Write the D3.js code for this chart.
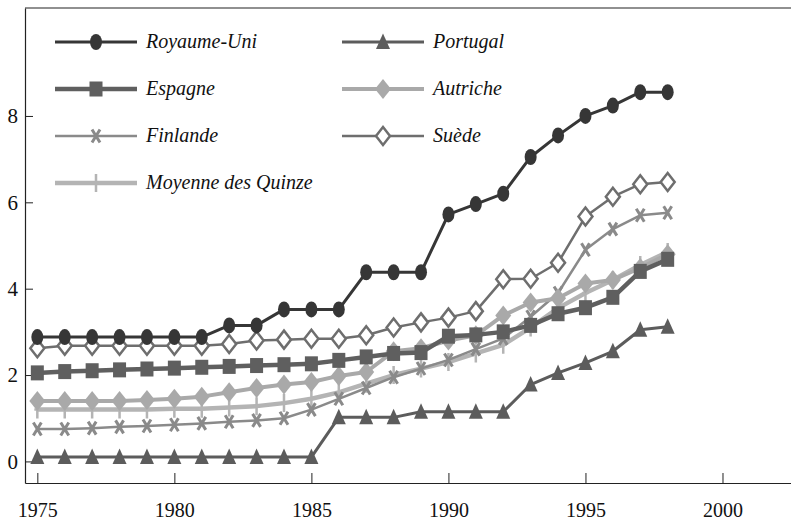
<!DOCTYPE html>
<html>
<head>
<meta charset="utf-8">
<script src="https://cdn.jsdelivr.net/npm/d3@7"></script>
<style>
  body { margin: 0; background: #fff; }
  svg { display: block; }
  svg text { font-family: 'Liberation Serif', 'Times New Roman', Times, serif; }
</style>
</head>
<body>
<div id="chart"></div>
<script>
// years on the x axis
const years = d3.range(1975, 1999)

// series values
const royaumeUni = [2.88, 2.88, 2.88, 2.88, 2.88, 2.88, 2.88, 3.15, 3.15, 3.52, 3.52, 3.52, 4.38, 4.38, 4.38, 5.72, 5.96, 6.2, 7.05, 7.55, 8.0, 8.24, 8.55, 8.55]
const portugal = [0.1, 0.1, 0.1, 0.1, 0.1, 0.1, 0.1, 0.1, 0.1, 0.1, 0.1, 1.02, 1.02, 1.02, 1.15, 1.15, 1.15, 1.15, 1.78, 2.05, 2.28, 2.55, 3.05, 3.12]
const espagne = [2.05, 2.08, 2.1, 2.12, 2.14, 2.16, 2.18, 2.2, 2.22, 2.24, 2.26, 2.34, 2.42, 2.5, 2.52, 2.9, 2.93, 3.0, 3.15, 3.42, 3.56, 3.8, 4.4, 4.68]
const autriche = [1.4, 1.4, 1.4, 1.4, 1.42, 1.45, 1.5, 1.6, 1.7, 1.78, 1.84, 1.98, 2.07, 2.55, 2.62, 2.8, 2.92, 3.38, 3.68, 3.78, 4.12, 4.2, 4.48, 4.8]
const finlande = [0.75, 0.75, 0.77, 0.8, 0.82, 0.85, 0.88, 0.92, 0.95, 1.0, 1.2, 1.45, 1.7, 1.95, 2.15, 2.35, 2.6, 2.85, 3.35, 3.9, 4.9, 5.38, 5.7, 5.76]
const suede = [2.62, 2.68, 2.68, 2.68, 2.68, 2.68, 2.68, 2.72, 2.8, 2.82, 2.84, 2.84, 2.92, 3.1, 3.22, 3.33, 3.48, 4.22, 4.23, 4.6, 5.67, 6.13, 6.42, 6.47]
const moyenne = [1.2, 1.2, 1.2, 1.2, 1.2, 1.22, 1.22, 1.25, 1.28, 1.35, 1.45, 1.6, 1.8, 2.0, 2.15, 2.3, 2.5, 2.7, 3.1, 3.55, 3.9, 4.2, 4.55, 4.85]

// tick values
const xTicks = [1975, 1980, 1985, 1990, 1995, 2000]
const yTicks = [0, 2, 4, 6, 8]

// legend order: left column then right column
const legendLeft = ['Royaume-Uni', 'Espagne', 'Finlande', 'Moyenne des Quinze']
const legendRight = ['Portugal', 'Autriche', 'Suède']

const width = 791, height = 522
const serif = "'Liberation Serif', 'Times New Roman', Times, serif"

// look of each series
const styles = {
  'Royaume-Uni': { values: royaumeUni, color: '#363636', width: 3, marker: 'circle' },
  'Portugal': { values: portugal, color: '#5c5c5c', width: 3, marker: 'triangle' },
  'Espagne': { values: espagne, color: '#5f5f5f', width: 4.5, marker: 'square' },
  'Autriche': { values: autriche, color: '#a9a9a9', width: 4, marker: 'diamond' },
  'Finlande': { values: finlande, color: '#8a8a8a', width: 2.5, marker: 'cross' },
  'Suède': { values: suede, color: '#6e6e6e', width: 2.5, marker: 'odiamond' },
  'Moyenne des Quinze': { values: moyenne, color: '#b4b4b4', width: 4.5, marker: 'plus' },
}

const x = d3.scaleLinear().domain([1974.55, 2002.5]).range([25, 791])
const y = d3.scaleLinear().domain([-0.5, 10.5]).range([483, 8])

const svg = d3.select('#chart')
  .append('svg')
  .attr('width', width)
  .attr('height', height)

// draw a marker centred on g
function drawMarker(g, type, color) {
  if (type === 'circle') {
    g.append('ellipse').attr('rx', 6).attr('ry', 8).attr('fill', color)
  } else if (type === 'triangle') {
    g.append('path').attr('d', 'M0,-8.5L7,7L-7,7Z').attr('fill', color)
  } else if (type === 'square') {
    g.append('rect').attr('x', -6.5).attr('y', -7.5).attr('width', 13).attr('height', 15).attr('fill', color)
  } else if (type === 'diamond') {
    g.append('path').attr('d', 'M0,-10L8,0L0,10L-8,0Z').attr('fill', color)
  } else if (type === 'odiamond') {
    g.append('path').attr('d', 'M0,-9L7,0L0,9L-7,0Z')
      .attr('fill', '#fff').attr('stroke', color).attr('stroke-width', 2.5)
  } else if (type === 'cross') {
    g.append('path').attr('d', 'M-4,-6.5L4,6.5M4,-6.5L-4,6.5')
      .attr('stroke', color).attr('stroke-width', 3).attr('fill', 'none')
  } else if (type === 'plus') {
    g.append('path').attr('d', 'M0,-9L0,9M-3,0L3,0')
      .attr('stroke', color).attr('stroke-width', 2.5).attr('fill', 'none')
  }
}

// frame: top line
svg.append('line')
  .attr('x1', 25).attr('x2', width).attr('y1', 8).attr('y2', 8)
  .attr('stroke', '#222').attr('stroke-width', 1.2)

// x axis
const xAxis = svg.append('g')
  .attr('transform', `translate(0, ${y(-0.5)})`)
  .call(d3.axisBottom(x).tickValues(xTicks).tickFormat(d3.format('d')).tickSizeInner(-10).tickSizeOuter(0).tickPadding(20))
xAxis.attr('font-family', null)
xAxis.select('.domain').attr('stroke', '#222').attr('stroke-width', 1.2)
xAxis.selectAll('.tick line').attr('stroke', '#222')
xAxis.selectAll('text')
  .style('font-family', serif)
  .style('font-size', '20px').attr('fill', '#111')

// y axis
const yAxis = svg.append('g')
  .attr('transform', `translate(${x(1974.55)}, 0)`)
  .call(d3.axisLeft(y).tickValues(yTicks).tickSizeInner(-8).tickSizeOuter(0).tickPadding(7))
yAxis.attr('font-family', null)
yAxis.select('.domain').attr('stroke', '#222').attr('stroke-width', 1.2)
yAxis.selectAll('.tick line').attr('stroke', '#222')
yAxis.selectAll('text')
  .style('font-family', serif)
  .style('font-size', '21px').attr('fill', '#111')

// series, drawn back to front
const drawOrder = ['Moyenne des Quinze', 'Finlande', 'Autriche', 'Espagne', 'Suède', 'Portugal', 'Royaume-Uni']
const lineGen = d3.line().x((d) => x(d[0])).y((d) => y(d[1]))

drawOrder.forEach((name) => {
  const s = styles[name]
  const pts = years.map((yr, i) => [yr, s.values[i]])
  svg.append('path')
    .attr('d', lineGen(pts))
    .attr('fill', 'none')
    .attr('stroke', s.color)
    .attr('stroke-width', s.width)
    .attr('stroke-linejoin', 'round')
  pts.forEach((p) => {
    const g = svg.append('g').attr('transform', `translate(${x(p[0])}, ${y(p[1])})`)
    drawMarker(g, s.marker, s.color)
  })
})

// legend
function legendItem(name, lx, ly) {
  const s = styles[name]
  svg.append('line')
    .attr('x1', lx).attr('x2', lx + 82).attr('y1', ly).attr('y2', ly)
    .attr('stroke', s.color).attr('stroke-width', s.width)
  const g = svg.append('g').attr('transform', `translate(${lx + 41}, ${ly})`)
  drawMarker(g, s.marker, s.color)
  svg.append('text')
    .attr('x', lx + 91).attr('y', ly + 6)
    .style('font-family', serif)
    .style('font-style', 'italic')
    .style('font-size', '20px')
    .attr('fill', '#111')
    .text(name)
}
legendLeft.forEach((name, i) => legendItem(name, 55, 42 + i * 47))
legendRight.forEach((name, i) => legendItem(name, 342, 42 + i * 47))
</script>
</body>
</html>
